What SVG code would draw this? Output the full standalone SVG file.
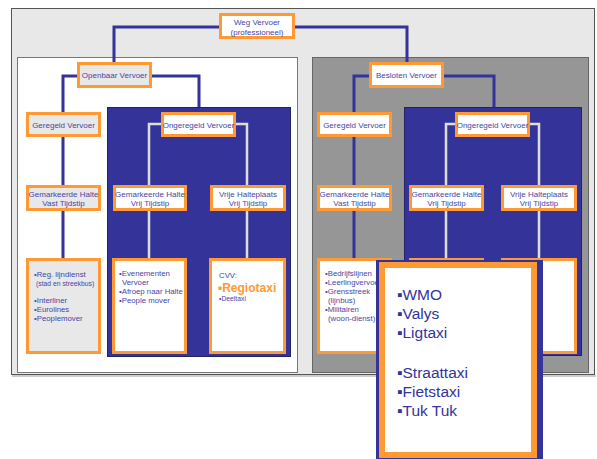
<svg xmlns="http://www.w3.org/2000/svg" width="597" height="459" viewBox="0 0 597 459">
  <defs>
    <style>
      .frame { fill: #e8e8e8; stroke: #555555; stroke-width: 1; }
      .panel-open { fill: #ffffff; stroke: #777777; stroke-width: 1; }
      .panel-closed { fill: #969696; stroke: #666666; stroke-width: 1; }
      .panel-blue { fill: #333399; stroke: #222266; stroke-width: 1; }
      .box { fill: #ffffff; stroke: #ff9933; stroke-width: 3; }
      .box-grey { fill: #e8e8e8; stroke: #ff9933; stroke-width: 3; }
      .link { fill: none; stroke: #333399; stroke-width: 3; }
      .link-light { fill: none; stroke: #dddddd; stroke-width: 2.5; }
      text { font-family: "Liberation Sans", Arial, sans-serif; fill: #4646a3; }
      .lbl { font-size: 8px; text-anchor: middle; }
      .item { font-size: 7.8px; }
      .small { font-size: 6.8px; }
      .big { font-size: 15.5px; fill: #333399; }
      .hl { font-size: 12px; font-weight: bold; fill: #ff9933; }
    </style>
  </defs>

  <!-- background frames -->
  <line x1="12" y1="376" x2="596" y2="376" stroke="#bbbbbb" stroke-width="1.5"/>
  <rect class="frame" x="11.5" y="8.5" width="583" height="366"/>
  <rect class="panel-open" x="17.5" y="57.5" width="280" height="315"/>
  <rect class="panel-closed" x="312.5" y="57.5" width="276" height="315"/>
  <rect class="panel-blue" x="107.5" y="107.5" width="183" height="249"/>
  <rect class="panel-blue" x="404.5" y="107.5" width="177" height="248"/>

  <!-- connectors -->
  <g id="connectors">
    <path class="link" d="M114,62 V27 H220"/>
    <path class="link" d="M295,27 H407 V62"/>
    <path class="link" d="M77,76 H63 V112 M63,137 V185 M63,211 V258"/>
    <path class="link" d="M152,76 H199 V107"/>
    <path class="link" d="M369,76 H354 V112 M354,137 V185 M354,211 V258"/>
    <path class="link" d="M444,76 H494 V107"/>
    <path class="link-light" d="M161,124 H149 V185 M149,211 V258"/>
    <path class="link-light" d="M236,124 H247 V185 M247,211 V258"/>
    <path class="link-light" d="M455,124 H446 V185 M446,211 V258"/>
    <path class="link-light" d="M530,124 H539 V185 M539,211 V258"/>
  </g>

  <!-- top -->
  <g id="weg-vervoer">
    <rect class="box" x="220.5" y="14.5" width="73" height="23"/>
    <text class="lbl" x="257" y="25">Weg Vervoer</text>
    <text class="lbl" x="257" y="34.5">(professioneel)</text>
  </g>

  <!-- public transport branch -->
  <g id="openbaar">
    <rect class="box-grey" x="78.5" y="63.5" width="72" height="23"/>
    <text class="lbl" x="114.5" y="78">Openbaar Vervoer</text>
  </g>
  <g id="geregeld-ov">
    <rect class="box-grey" x="27.5" y="113.5" width="72" height="22"/>
    <text class="lbl" x="63.5" y="127.5">Geregeld Vervoer</text>
  </g>
  <g id="ongeregeld-ov">
    <rect class="box" x="162.5" y="113.5" width="72" height="22"/>
    <text class="lbl" x="198.5" y="127.5">Ongeregeld Vervoer</text>
  </g>
  <g id="halte-vast-ov">
    <rect class="box-grey" x="27.5" y="186.5" width="72" height="23"/>
    <text class="lbl" x="63.5" y="196.5">Gemarkeerde Halte</text>
    <text class="lbl" x="63.5" y="206">Vast Tijdstip</text>
  </g>
  <g id="halte-vrij-ov">
    <rect class="box" x="114.5" y="186.5" width="71" height="23"/>
    <text class="lbl" x="150" y="196.5">Gemarkeerde Halte</text>
    <text class="lbl" x="150" y="206">Vrij Tijdstip</text>
  </g>
  <g id="halteplaats-ov">
    <rect class="box" x="211.5" y="186.5" width="73" height="23"/>
    <text class="lbl" x="248" y="196.5">Vrije Halteplaats</text>
    <text class="lbl" x="248" y="206">Vrij Tijdstip</text>
  </g>
  <g id="lijndienst">
    <rect class="box-grey" x="27.5" y="259.5" width="72" height="93"/>
    <text class="item" x="34" y="277">•Reg. lijndienst</text>
    <text class="small" x="36" y="286">(stad en streekbus)</text>
    <text class="item" x="34" y="303">•Interliner</text>
    <text class="item" x="34" y="312">•Eurolines</text>
    <text class="item" x="34" y="321">•Peoplemover</text>
  </g>
  <g id="evenementen">
    <rect class="box" x="113.5" y="259.5" width="72" height="93"/>
    <text class="item" x="119" y="276">•Evenementen</text>
    <text class="item" x="122" y="285">Vervoer</text>
    <text class="item" x="119" y="294">•Afroep naar Halte</text>
    <text class="item" x="119" y="303">•People mover</text>
  </g>
  <g id="cvv">
    <rect class="box" x="210.5" y="259.5" width="74" height="93"/>
    <text class="item" x="219" y="278">CVV:</text>
    <text class="hl" x="218" y="292">•Regiotaxi</text>
    <text class="small" x="219" y="301">•Deeltaxi</text>
  </g>

  <!-- private transport branch -->
  <g id="besloten">
    <rect class="box" x="370.5" y="63.5" width="72" height="23"/>
    <text class="lbl" x="406.5" y="78">Besloten Vervoer</text>
  </g>
  <g id="geregeld-bv">
    <rect class="box" x="318.5" y="113.5" width="72" height="22"/>
    <text class="lbl" x="354.5" y="127.5">Geregeld Vervoer</text>
  </g>
  <g id="ongeregeld-bv">
    <rect class="box" x="456.5" y="113.5" width="72" height="22"/>
    <text class="lbl" x="492.5" y="127.5">Ongeregeld Vervoer</text>
  </g>
  <g id="halte-vast-bv">
    <rect class="box" x="318.5" y="186.5" width="72" height="23"/>
    <text class="lbl" x="354.5" y="196.5">Gemarkeerde Halte</text>
    <text class="lbl" x="354.5" y="206">Vast Tijdstip</text>
  </g>
  <g id="halte-vrij-bv">
    <rect class="box" x="410.5" y="186.5" width="72" height="23"/>
    <text class="lbl" x="446.5" y="196.5">Gemarkeerde Halte</text>
    <text class="lbl" x="446.5" y="206">Vrij  Tijdstip</text>
  </g>
  <g id="halteplaats-bv">
    <rect class="box" x="502.5" y="186.5" width="73" height="23"/>
    <text class="lbl" x="539" y="196.5">Vrije Halteplaats</text>
    <text class="lbl" x="539" y="206">Vrij Tijdstip</text>
  </g>
  <g id="bedrijfslijnen">
    <rect class="box" x="318.5" y="259.5" width="72" height="93"/>
    <text class="item" x="325" y="276">•Bedrijfslijnen</text>
    <text class="item" x="325" y="285">•Leerlingvervoer</text>
    <text class="item" x="325" y="294">•Grensstreek</text>
    <text class="item" x="328" y="303">(lijnbus)</text>
    <text class="item" x="325" y="312">•Militairen</text>
    <text class="item" x="328" y="321">(woon-dienst)</text>
  </g>
  <g id="vraag-bv">
    <rect class="box" x="410.5" y="259.5" width="72" height="93"/>
  </g>
  <g id="taxi-bv">
    <rect class="box" x="502.5" y="259.5" width="73" height="93"/>
  </g>

  <!-- enlarged callout -->
  <g id="callout">
    <rect x="376" y="260" width="167" height="199" fill="#333399"/>
    <rect x="382" y="265" width="152" height="190" fill="#ffffff" stroke="#ff9933" stroke-width="6"/>
    <text class="big" x="397" y="299.5">▪WMO</text>
    <text class="big" x="397" y="318.5">▪Valys</text>
    <text class="big" x="397" y="337.5">▪Ligtaxi</text>
    <text class="big" x="397" y="377.5">▪Straattaxi</text>
    <text class="big" x="397" y="396.5">▪Fietstaxi</text>
    <text class="big" x="397" y="415.5">▪Tuk Tuk</text>
  </g>
</svg>
